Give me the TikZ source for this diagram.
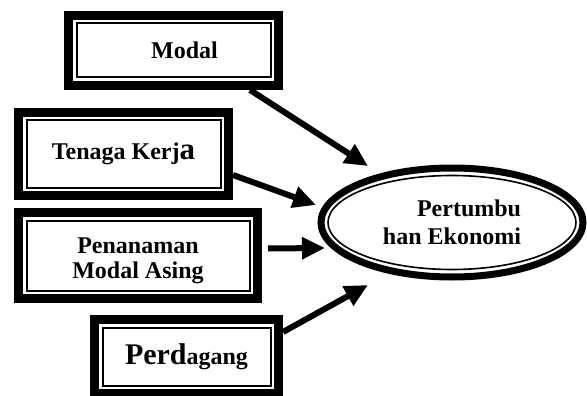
\documentclass[tikz,border=0pt]{standalone}
\usepackage{fontspec}
\setmainfont{Liberation Serif}
\usetikzlibrary{arrows.meta,shapes.geometric}

\begin{document}
\begin{tikzpicture}[x=1pt,y=-1pt,
    every node/.style={font=\bfseries\fontsize{24}{25}\selectfont},
    factor/.style={draw,line width=9pt,inner sep=0pt,align=center,
      path picture={\draw[line width=2pt]
        ([shift={(8pt,-8pt)}]path picture bounding box.north west) rectangle
        ([shift={(-8pt,8pt)}]path picture bounding box.south east);}},
    result/.style={ellipse,draw,line width=7pt,inner sep=0pt,align=right,
      minimum width=262pt,minimum height=109pt,
      path picture={\draw[line width=1.6pt] (path picture bounding box.center)
        ellipse [x radius=124pt,y radius=47pt];}},
    link/.style={line width=6pt,-{Triangle[length=23pt,width=21pt]}}]
  \useasboundingbox[fill=white] (0,0) rectangle (587,396);
  \node[factor,minimum width=210pt,minimum height=70pt,
    label={[xshift=11pt]center:Modal}] (modal) at (173.5,50.5) {};
  \node[factor,minimum width=210pt,minimum height=83pt] (tenaga) at (123.5,154)
    {Tenaga Kerj{\fontsize{31}{31}\selectfont a}};
  \node[factor,minimum width=239pt,minimum height=86pt,
    label={[yshift=-5pt,align=center]center:Penanaman\\Modal Asing}] (pma) at (138,255.5) {};
  \node[factor,minimum width=184pt,minimum height=74pt] (dagang) at (186.5,356.5)
    {{\fontsize{30}{30}\selectfont Perd}agang};
  \node[result,font=\bfseries\fontsize{24}{28}\selectfont] (eco) at (452,222.5)
    {Pertumbu\\han Ekonomi};
  \coordinate (t1) at (368,166);
  \coordinate (t2) at (316,205);
  \coordinate (t3) at (325,248);
  \coordinate (t4) at (368,285);
  \draw[link] ([xshift=-33pt]modal.south east) -- (t1);
  \draw[link] ([yshift=-21pt]tenaga.east) -- (t2);
  \draw[link] ([shift={(6pt,7pt)}]pma.east) -- (t3);
  \draw[link] ([yshift=-17pt]dagang.north east) -- (t4);
\end{tikzpicture}
\end{document}
